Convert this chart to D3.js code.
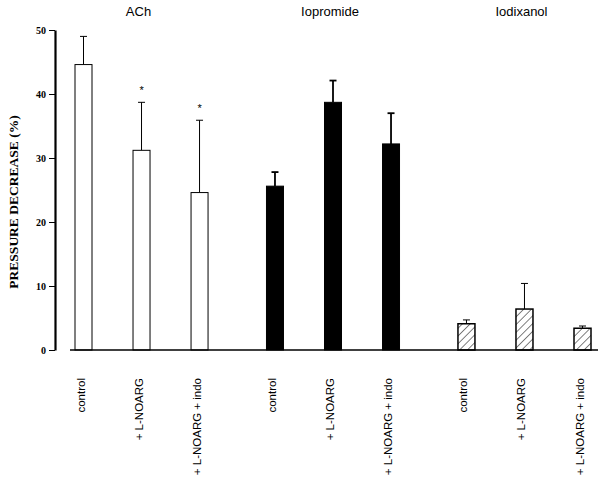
<!DOCTYPE html>
<html>
<head>
<meta charset="utf-8">
<script src="https://cdn.jsdelivr.net/npm/d3@7"></script>
<style>
  body { margin: 0; background: #fff; }
  svg { display: block; }
</style>
</head>
<body>
<svg id="chart" width="600" height="481"></svg>
<script>
const groups = ['ACh', 'Iopromide', 'Iodixanol'];
const conditions = ['control', '+ L-NOARG', '+ L-NOARG + indo'];
const means = [
  [44.6, 31.2, 24.6],
  [25.6, 38.7, 32.2],
  [4.1, 6.4, 3.4]
];
const errors = [
  [4.4, 7.5, 11.3],
  [2.2, 3.4, 4.8],
  [0.6, 4.0, 0.35]
];
const significant = [
  [false, true, true],
  [false, false, false],
  [false, false, false]
];
const yTicks = [0, 10, 20, 30, 40, 50];

const svg = d3.select('#chart');

// flatten into bars, small extra gap between groups
const data = [];
groups.forEach((g, gi) => {
  conditions.forEach((c, ci) => {
    data.push({ group: g, gi, cond: c, slot: gi * 3 + ci + gi * 0.3,
      mean: means[gi][ci], err: errors[gi][ci], sig: significant[gi][ci] });
  });
});

const x = d3.scaleLinear().domain([0, 8.6]).range([83.5, 582.5]);
const y = d3.scaleLinear().domain([0, 50]).range([350, 30]);
const barW = 17;

// hatch pattern
const defs = svg.append('defs');
const pat = defs.append('pattern')
  .attr('id', 'hatch')
  .attr('patternUnits', 'userSpaceOnUse')
  .attr('width', 5.5).attr('height', 5.5)
  .attr('patternTransform', 'rotate(45)');
pat.append('rect').attr('width', 5.5).attr('height', 5.5).attr('fill', '#fff');
pat.append('line').attr('x1', 0).attr('y1', 0).attr('x2', 0).attr('y2', 5.5)
  .attr('stroke', '#000').attr('stroke-width', 1);

const fills = ['#fff', '#000', 'url(#hatch)'];

// Y axis
const yAxis = svg.append('g')
  .attr('transform', 'translate(55,0)')
  .call(d3.axisLeft(y).tickValues(yTicks).tickSize(6).tickSizeOuter(0).tickPadding(3));
yAxis.select('.domain').attr('stroke-width', 2.2);
yAxis.selectAll('.tick line').attr('stroke-width', 1);
yAxis.selectAll('text')
  .attr('font-family', 'Liberation Serif')
  .attr('font-weight', 'bold')
  .attr('font-size', 10);

svg.append('text')
  .attr('transform', 'translate(18,202) rotate(-90)')
  .attr('text-anchor', 'middle')
  .attr('font-family', 'Liberation Serif')
  .attr('font-weight', 'bold')
  .attr('font-size', 13.5)
  .text('PRESSURE DECREASE  (%)');

// error bars
const eb = svg.append('g');
data.forEach(d => {
  const cx = x(d.slot);
  const sw = d.gi === 1 ? 1.8 : 1;
  eb.append('line')
    .attr('x1', cx).attr('x2', cx)
    .attr('y1', y(d.mean)).attr('y2', y(d.mean + d.err))
    .attr('stroke', '#000').attr('stroke-width', sw);
  eb.append('line')
    .attr('x1', cx - 3.5).attr('x2', cx + 3.5)
    .attr('y1', y(d.mean + d.err)).attr('y2', y(d.mean + d.err))
    .attr('stroke', '#000').attr('stroke-width', sw);
});

// bars
svg.append('g').selectAll('rect')
  .data(data)
  .join('rect')
  .attr('x', d => x(d.slot) - barW / 2)
  .attr('width', barW)
  .attr('y', d => y(d.mean))
  .attr('height', d => y(0) - y(d.mean))
  .attr('fill', d => fills[d.gi])
  .attr('stroke', '#000')
  .attr('stroke-width', d => d.gi === 2 ? 1.5 : 1);

// baseline
svg.append('line')
  .attr('x1', 70).attr('x2', 598)
  .attr('y1', y(0)).attr('y2', y(0))
  .attr('stroke', '#000').attr('stroke-width', 1.5);

// asterisks
svg.append('g').selectAll('text')
  .data(data.filter(d => d.sig))
  .join('text')
  .attr('x', d => x(d.slot))
  .attr('y', d => y(d.mean + d.err) - 8)
  .attr('text-anchor', 'middle')
  .attr('font-family', 'Liberation Sans')
  .attr('font-size', 11)
  .text('*');

// group titles
svg.append('g').selectAll('text')
  .data(groups)
  .join('text')
  .attr('x', (g, gi) => x(gi * 3 + 1 + gi * 0.3) - 3)
  .attr('y', 16)
  .attr('text-anchor', 'middle')
  .attr('font-family', 'Liberation Sans')
  .attr('font-size', 13)
  .text(g => g);

// category labels
svg.append('g').selectAll('text')
  .data(data)
  .join('text')
  .attr('transform', d => `translate(${x(d.slot) + 1},378) rotate(-90)`)
  .attr('text-anchor', 'end')
  .attr('font-family', 'Liberation Sans')
  .attr('font-size', 11.5)
  .text(d => d.cond);
</script>
</body>
</html>
